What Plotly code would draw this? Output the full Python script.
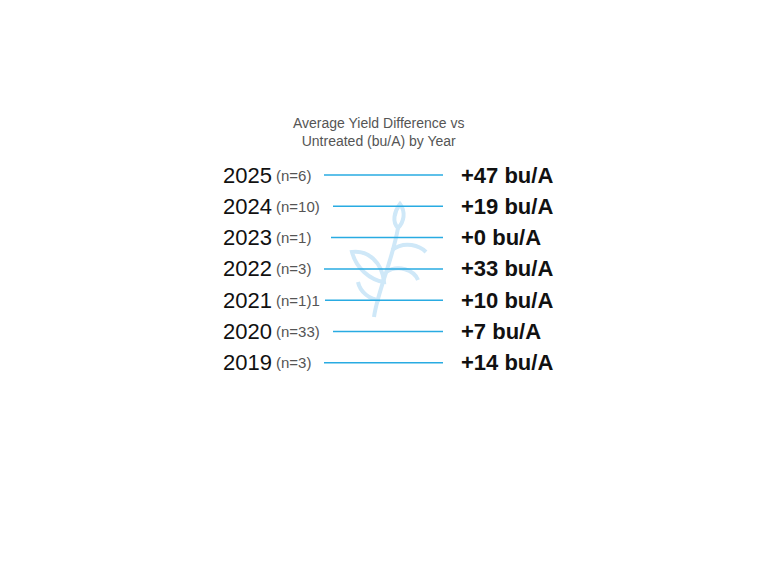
import plotly.graph_objects as go

years = ["2025", "2024", "2023", "2022", "2021", "2020", "2019"]
counts = ["(n=6)", "(n=10)", "(n=1)", "(n=3)", "(n=1)1", "(n=33)", "(n=3)"]
diffs = [47, 19, 0, 33, 10, 7, 14]
line_start = [324, 333, 331, 324, 325, 333, 324]
line_end = 443

FONT = "Liberation Sans Narrow, Liberation Sans, Arial"
W, H = 774, 582
OFF = 8  # page body margin
row_y = [175 + i * 31.3 - OFF for i in range(len(years))]

fig = go.Figure()

# faint plant watermark behind the rows (pixel coords, shifted by OFF)
WM = dict(type="path", xref="x", yref="y", layer="below",
          line=dict(color="#cfe8f8", width=4), fillcolor="rgba(0,0,0,0)")
plant = [
    "M 374 317 C 378 290, 392 262, 398 228",          # stem
    "M 398 228 C 392 222, 394 212, 400 204 C 406 212, 404 222, 398 228 Z",  # top leaf
    "M 392 250 C 405 240, 420 246, 426 252",          # right upper branch
    "M 386 272 C 398 264, 414 270, 418 280",          # right lower branch
    "M 384 282 C 370 280, 356 268, 352 252 C 368 250, 382 262, 384 282 Z",  # left leaf
    "M 380 300 C 370 300, 360 292, 358 282",          # left small branch
]
for p in plant:
    fig.add_shape(path=" ".join(
        t if not t.replace('.', '').lstrip('-').isdigit() else t for t in p.split()), **WM)
# shift shapes by OFF
for s in fig.layout.shapes:
    toks = s.path.replace(",", " ").split()
    out, k = [], 0
    for t in toks:
        try:
            v = float(t)
            out.append(str(v - OFF))
        except ValueError:
            out.append(t)
    s.path = " ".join(out)

for i, y in enumerate(row_y):
    fig.add_trace(go.Scatter(x=[line_start[i] - OFF, line_end - OFF], y=[y, y], mode="lines",
                             line=dict(color="#29abe2", width=1.5),
                             hoverinfo="skip", showlegend=False))
    fig.add_annotation(x=221 - OFF, y=y, text=years[i], xanchor="left", yanchor="middle",
                       showarrow=False, font=dict(family=FONT, size=22, color="#111"))
    fig.add_annotation(x=274 - OFF, y=y, text=counts[i], xanchor="left", yanchor="middle",
                       showarrow=False, font=dict(family=FONT, size=15, color="#555"))
    fig.add_annotation(x=459 - OFF, y=y, text="<b>+%d bu/A</b>" % diffs[i], xanchor="left",
                       yanchor="middle", showarrow=False,
                       font=dict(family=FONT, size=22, color="#111"))

fig.add_annotation(x=378 - OFF, y=132 - OFF,
                   text="Average Yield Difference vs<br>Untreated (bu/A) by Year",
                   showarrow=False, xanchor="center", yanchor="middle",
                   font=dict(family=FONT, size=14, color="#555"))

fig.update_layout(
    width=W, height=H, margin=dict(l=0, r=0, t=0, b=0),
    paper_bgcolor="white", plot_bgcolor="white",
    xaxis=dict(range=[0, W], visible=False, fixedrange=True),
    yaxis=dict(range=[H, 0], visible=False, fixedrange=True),
)
fig.write_html("out.html")
